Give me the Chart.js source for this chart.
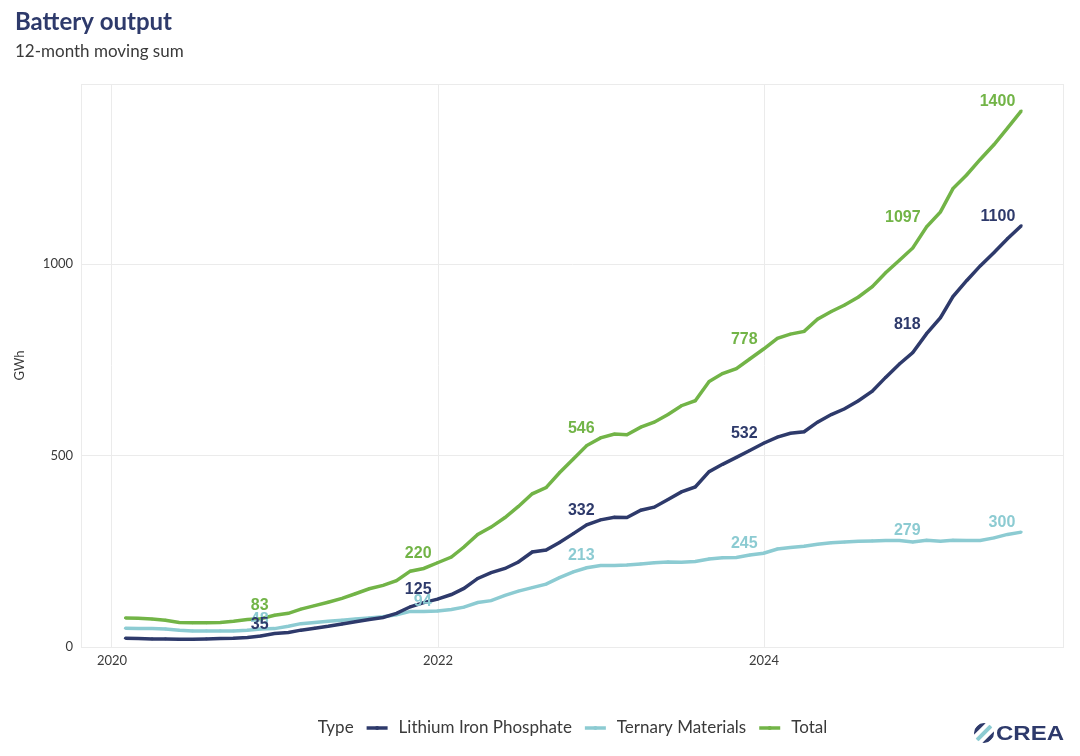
<!DOCTYPE html>
<html>
<head>
<meta charset="utf-8">
<script src="https://cdn.jsdelivr.net/npm/chart.js@4.4.1/dist/chart.umd.min.js"></script>
<style>
  body { margin: 0; background: #fff; }
  #wrap { width: 1080px; height: 756px; }
</style>
</head>
<body>
<div id="wrap"><canvas id="chart" width="1080" height="756"></canvas></div>
<script>
// monthly points Jan 2020 - Jul 2025, plotted at month end
const startYear = 2020;
const monthCount = 67;
const months = [];
for (let i = 0; i < monthCount; i++) {
  months.push((startYear + Math.floor(i / 12)) + '-' + String(i % 12 + 1).padStart(2, '0'));
}

const seriesNames = ['Lithium Iron Phosphate', 'Ternary Materials', 'Total'];

const lfp = [23, 22, 21, 21, 20, 20, 21, 22, 23, 25, 29, 35,
  38, 44, 49, 54, 60, 66, 72, 77, 88, 105, 116, 125,
  137, 153, 179, 194, 205, 222, 248, 253, 273, 296, 319, 332,
  339, 338, 357, 365, 385, 405, 418, 458, 477, 495, 513, 532,
  548, 558, 562, 587, 607, 622, 643, 668, 704, 739, 769, 818,
  860, 915, 957, 995, 1030, 1066, 1100];

const ternary = [49, 48, 48, 47, 44, 42, 42, 42, 42, 44, 47, 48,
  54, 61, 64, 67, 70, 73, 76, 79, 84, 93, 93, 94,
  98, 104, 116, 121, 135, 146, 155, 164, 181, 196, 207, 213,
  213, 214, 217, 220, 222, 221, 223, 230, 233, 234, 240, 245,
  256, 260, 263, 268, 272, 274, 276, 277, 278, 278, 274, 279,
  276, 279, 278, 278, 285, 294, 300];

const total = [76, 75, 73, 70, 64, 63, 63, 64, 67, 72, 74, 83,
  88, 99, 108, 117, 127, 139, 152, 161, 173, 198, 205, 220,
  235, 261, 294, 313, 338, 367, 400, 416, 455, 491, 526, 546,
  556, 554, 574, 587, 607, 630, 643, 693, 714, 727, 752, 778,
  806, 817, 824, 856, 876, 893, 914, 941, 977, 1010, 1042, 1097,
  1136, 1197, 1233, 1273, 1312, 1355, 1400];

const xTicks = [2020, 2022, 2024];
const yTicks = [0, 500, 1000];
const labelIdx = [11, 23, 35, 47, 59, 66];   // December of each year + last month

const colNavy = '#2e3a6b';
const colLight = '#8ccbd2';
const colGreen = '#72b447';
const gridCol = '#ebebeb';
const textCol = '#3a3a3a';

// month string -> fractional year at the last day of the month
function monthEnd(s) {
  const [y, m] = s.split('-').map(Number);
  const last = new Date(Date.UTC(y, m, 0)).getTime();
  const y0 = Date.UTC(y, 0, 1), y1 = Date.UTC(y + 1, 0, 1);
  return y + (last - y0) / (y1 - y0);
}
const xs = months.map(monthEnd);
const pts = arr => arr.map((v, i) => ({ x: xs[i], y: v }));

function lineSet(name, values, color) {
  return {
    label: name,
    data: pts(values),
    borderColor: color,
    backgroundColor: color,
    borderWidth: 3.5,
    pointRadius: 1.4,
    pointBorderWidth: 0,
    tension: 0,
    fill: false
  };
}

const valueLabels = {
  id: 'valueLabels',
  afterDatasetsDraw(chart) {
    const ctx = chart.ctx;
    ctx.save();
    ctx.font = 'bold 16px "Liberation Sans", Arial, sans-serif';
    ctx.textAlign = 'right';
    ctx.textBaseline = 'alphabetic';
    [2, 1, 0].forEach(d => {
      const ds = chart.data.datasets[d];
      const meta = chart.getDatasetMeta(d);
      ctx.fillStyle = ds.borderColor;
      labelIdx.forEach(i => {
        const p = meta.data[i];
        ctx.fillText(String(ds.data[i].y), p.x - 6, p.y - 5);
      });
    });
    ctx.restore();
  }
};

const decor = {
  id: 'decor',
  beforeDraw(chart) {
    const ctx = chart.ctx;
    ctx.save();
    ctx.fillStyle = '#fff';
    ctx.fillRect(0, 0, chart.width, chart.height);
    ctx.restore();
  },
  beforeDatasetsDraw(chart) {
    const a = chart.chartArea, ctx = chart.ctx;
    ctx.save();
    ctx.strokeStyle = gridCol;
    ctx.lineWidth = 1;
    ctx.strokeRect(a.left + 0.5, a.top + 0.5, a.right - a.left - 1, a.bottom - a.top);
    ctx.restore();
  },
  afterDraw(chart) {
    const ctx = chart.ctx, a = chart.chartArea;
    ctx.save();
    // title block
    ctx.textAlign = 'left';
    ctx.textBaseline = 'alphabetic';
    ctx.fillStyle = colNavy;
    ctx.font = 'bold 24px Lato, "Open Sans", sans-serif';
    ctx.fillText('Battery output', 15, 30);
    ctx.fillStyle = textCol;
    ctx.font = '17px Lato, "Open Sans", sans-serif';
    ctx.fillText('12-month moving sum', 15, 57);

    // legend
    const ly = 728;
    ctx.font = '17px Lato, "Open Sans", sans-serif';
    ctx.textBaseline = 'middle';
    const cols = [colNavy, colLight, colGreen];
    const sw = 21;
    let w = ctx.measureText('Type').width + 13;
    seriesNames.forEach((n, k) => {
      w += sw + 11 + ctx.measureText(n).width + (k < 2 ? 13 : 0);
    });
    let x = (a.left + a.right) / 2 - w / 2;
    ctx.fillStyle = textCol;
    ctx.fillText('Type', x, ly);
    x += ctx.measureText('Type').width + 13;
    seriesNames.forEach((n, k) => {
      ctx.strokeStyle = cols[k];
      ctx.lineWidth = 3.5;
      ctx.beginPath();
      ctx.moveTo(x, ly);
      ctx.lineTo(x + sw, ly);
      ctx.stroke();
      ctx.fillStyle = cols[k];
      ctx.beginPath();
      ctx.arc(x + sw / 2, ly, 2, 0, Math.PI * 2);
      ctx.fill();
      x += sw + 11;
      ctx.fillStyle = textCol;
      ctx.fillText(n, x, ly);
      x += ctx.measureText(n).width + 13;
    });

    // logo
    const cx = 984, cy = 733, r = 10;
    ctx.save();
    ctx.beginPath();
    ctx.arc(cx, cy, r, 0, Math.PI * 2);
    ctx.clip();
    const stripes = [colGreen, colNavy, colLight, colNavy, colGreen];
    ctx.lineWidth = 4;
    stripes.forEach((c, k) => {
      const off = (k - 2) * 5.5;
      ctx.strokeStyle = c;
      ctx.beginPath();
      ctx.moveTo(cx - 14 + off, cy + 14 + off);
      ctx.lineTo(cx + 14 + off, cy - 14 + off);
      ctx.stroke();
    });
    ctx.restore();
    ctx.fillStyle = colNavy;
    ctx.font = 'bold 21px "Liberation Sans", Arial, sans-serif';
    ctx.textBaseline = 'alphabetic';
    const tw = ctx.measureText('CREA').width;
    ctx.translate(996, 740);
    ctx.scale(68 / tw, 1);
    ctx.fillText('CREA', 0, 0);
    ctx.restore();
  }
};

new Chart(document.getElementById('chart'), {
  type: 'line',
  data: {
    datasets: [
      lineSet(seriesNames[0], lfp, colNavy),
      lineSet(seriesNames[1], ternary, colLight),
      lineSet(seriesNames[2], total, colGreen)
    ]
  },
  options: {
    responsive: false,
    animation: false,
    events: [],
    layout: { padding: { top: 84, right: 16, left: 0, bottom: 0 } },
    plugins: {
      legend: { display: false },
      tooltip: { enabled: false },
      title: { display: false }
    },
    scales: {
      x: {
        type: 'linear',
        min: 2019.81,
        max: 2025.84,
        afterBuildTicks: s => { s.ticks = xTicks.map(v => ({ value: v })); },
        afterFit: s => { s.height = 109; },
        grid: { color: gridCol, lineWidth: 1, drawTicks: false },
        border: { display: false },
        ticks: {
          padding: 6,
          color: textCol,
          font: { family: 'Lato, "Open Sans", sans-serif', size: 13 },
          callback: v => String(v)
        }
      },
      y: {
        type: 'linear',
        min: 0,
        max: 1470,
        afterBuildTicks: s => { s.ticks = yTicks.map(v => ({ value: v })); },
        afterFit: s => { s.width = 81; },
        grid: { color: gridCol, lineWidth: 1, drawTicks: false },
        border: { display: false },
        title: {
          display: true,
          text: 'GWh',
          color: textCol,
          font: { family: 'Lato, "Open Sans", sans-serif', size: 13 },
          padding: { top: 12, bottom: 0 }
        },
        ticks: {
          padding: 8,
          color: textCol,
          font: { family: 'Lato, "Open Sans", sans-serif', size: 13 },
          callback: v => String(v)
        }
      }
    }
  },
  plugins: [decor, valueLabels]
});
</script>
</body>
</html>
